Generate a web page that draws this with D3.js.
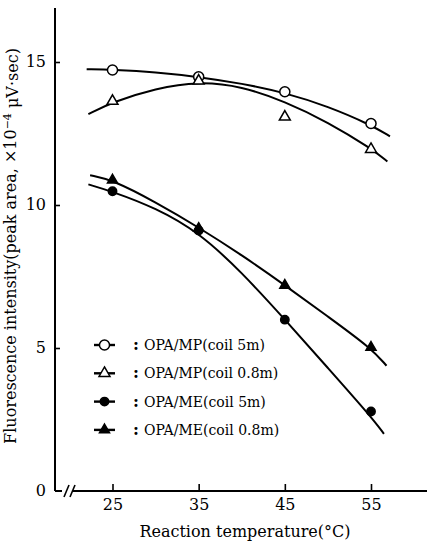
<!DOCTYPE html>
<html>
<head>
<meta charset="utf-8">
<script src="https://cdn.jsdelivr.net/npm/d3@7"></script>
<style>
body { margin: 0; background: #fff; }
text { font-family: "DejaVu Serif", serif; fill: #000; }
</style>
</head>
<body>
<div id="chart"></div>
<script>
// measured points
var temps = [25, 35, 45, 55];
var mp5 = [14.72, 14.48, 13.96, 12.85];
var mp08 = [13.63, 14.34, 13.08, 11.95];
var me5 = [10.48, 9.11, 5.99, 2.78];
var me08 = [10.87, 9.18, 7.19, 5.02];

// hand drawn curves [temp, value]
var fitMp5 = [[22.0, 14.75], [25, 14.73], [30, 14.65], [35, 14.48], [40, 14.25], [45, 13.93], [50, 13.45], [55, 12.8], [57.2, 12.4]];
var fitMp08 = [[22.2, 13.18], [25, 13.6], [30, 14.08], [35, 14.32], [40, 14.15], [45, 13.62], [50, 12.9], [55, 11.98], [56.9, 11.52]];
var fitMe5 = [[22.2, 10.72], [25, 10.47], [30, 9.9], [35, 9.05], [40, 7.65], [45, 6.0], [50, 4.3], [55, 2.6], [56.5, 2.0]];
var fitMe08 = [[22.4, 11.04], [25, 10.88], [30, 10.1], [35, 9.22], [40, 8.25], [45, 7.2], [50, 6.1], [55, 5.0], [56.8, 4.38]];

var xTicks = [25, 35, 45, 55];
var yTicks = [0, 5, 10, 15];
var legendNames = ["OPA/MP(coil 5m)", "OPA/MP(coil 0.8m)", "OPA/ME(coil 5m)", "OPA/ME(coil 0.8m)"];

var width = 427, height = 544;
var svg = d3.select("#chart").append("svg")
	.attr("width", width)
	.attr("height", height);

var x = d3.scaleLinear().domain([25, 55]).range([112.5, 371]);
var y = d3.scaleLinear().domain([0, 15]).range([491, 62]);
var axisX = 55;

// symbols
var circle = d3.symbol().type(d3.symbolCircle).size(80);
var circleFill = d3.symbol().type(d3.symbolCircle).size(55);
var tri = d3.symbol().type(d3.symbolTriangle).size(52);
var triFill = d3.symbol().type(d3.symbolTriangle).size(44);

var series = [
	{ vals: mp5, fit: fitMp5, sym: circle, filled: false },
	{ vals: mp08, fit: fitMp08, sym: tri, filled: false },
	{ vals: me5, fit: fitMe5, sym: circleFill, filled: true },
	{ vals: me08, fit: fitMe08, sym: triFill, filled: true }
];

// axes
var gx = svg.append("g")
	.attr("transform", "translate(0," + y(0) + ")")
	.call(d3.axisBottom(x).tickValues(xTicks).tickSize(-7).tickPadding(8));
gx.select(".domain").remove();
gx.selectAll(".tick line").attr("stroke", "#000").attr("stroke-width", 1.6);
gx.selectAll(".tick text").style("font-size", "16px").style("font-family", "DejaVu Serif");

var gy = svg.append("g")
	.attr("transform", "translate(" + axisX + ",0)")
	.call(d3.axisLeft(y).tickValues(yTicks).tickSize(-5).tickPadding(9));
gy.select(".domain").remove();
gy.selectAll(".tick line").attr("stroke", "#000").attr("stroke-width", 1.6)
	.filter(function (d) { return d === 0; }).remove();
gy.selectAll(".tick text").style("font-size", "16px").style("font-family", "DejaVu Serif")
	.attr("dy", "0.25em");

// axis lines with break
svg.append("line").attr("x1", axisX).attr("x2", axisX).attr("y1", 8).attr("y2", y(0))
	.attr("stroke", "#000").attr("stroke-width", 2);
svg.append("line").attr("x1", axisX).attr("x2", 62).attr("y1", y(0)).attr("y2", y(0))
	.attr("stroke", "#000").attr("stroke-width", 2);
svg.append("line").attr("x1", 73).attr("x2", width).attr("y1", y(0)).attr("y2", y(0))
	.attr("stroke", "#000").attr("stroke-width", 2);
[64, 70].forEach(function (bx) {
	svg.append("line").attr("x1", bx).attr("x2", bx + 5).attr("y1", y(0) + 6).attr("y2", y(0) - 6)
		.attr("stroke", "#000").attr("stroke-width", 1.6);
});

// curves
var line = d3.line()
	.x(function (d) { return x(d[0]); })
	.y(function (d) { return y(d[1]); })
	.curve(d3.curveBasis);

series.forEach(function (s) {
	svg.append("path")
		.attr("d", line(s.fit))
		.attr("fill", "none")
		.attr("stroke", "#000")
		.attr("stroke-width", 2);
});

// markers
series.forEach(function (s) {
	svg.selectAll(null)
		.data(s.vals)
		.enter()
		.append("path")
		.attr("d", s.sym)
		.attr("transform", function (d, i) { return "translate(" + x(temps[i]) + "," + y(d) + ")"; })
		.attr("fill", s.filled ? "#000" : "#fff")
		.attr("stroke", "#000")
		.attr("stroke-width", 1.5);
});

// legend
var legend = svg.append("g");
legendNames.forEach(function (name, i) {
	var ly = 345 + i * 28.3;
	legend.append("rect")
		.attr("x", 94).attr("y", ly - 1.2)
		.attr("width", 21).attr("height", 2.4)
		.attr("fill", "#000");
	legend.append("path")
		.attr("d", series[i].sym())
		.attr("transform", "translate(104.5," + ly + ")")
		.attr("fill", series[i].filled ? "#000" : "#fff")
		.attr("stroke", "#000")
		.attr("stroke-width", 1.5);
	legend.append("text").attr("x", 133).attr("y", ly + 5).style("font-size", "16px")
		.style("font-weight", "bold").text(":");
	legend.append("text").attr("x", 144).attr("y", ly + 5).style("font-size", "14px").text(name);
});

// axis titles
svg.append("text")
	.attr("x", 245).attr("y", 537)
	.attr("text-anchor", "middle")
	.style("font-size", "16px")
	.text("Reaction temperature(°C)");

var yl = svg.append("text")
	.attr("transform", "translate(16,246) rotate(-90)")
	.attr("text-anchor", "middle")
	.style("font-size", "16px");
yl.append("tspan").text("Fluorescence intensity(peak area, ×10");
yl.append("tspan").attr("dy", "-0.45em").style("font-size", "11px").text("−4");
yl.append("tspan").attr("dy", "0.45em").text(" μV·sec)");
</script>
</body>
</html>
